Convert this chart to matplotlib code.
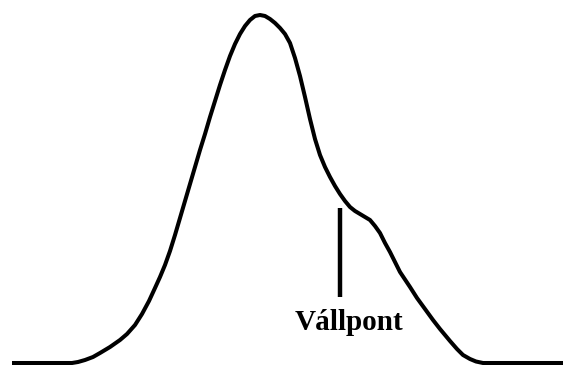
import matplotlib
matplotlib.use("Agg")
import matplotlib.pyplot as plt

# Peak trace with a shoulder on the falling side (time vs. signal height)
time = [12, 72, 78, 85, 93, 100, 110, 120, 127, 135, 142, 149, 155, 160,
        165, 170, 175, 180, 185, 190, 195, 200, 205, 210, 215, 220, 225,
        230, 235, 240, 245, 250, 255, 260, 265, 270, 275, 280, 285, 290,
        295, 300, 305, 310, 315, 320, 325, 330, 335, 340, 345, 350, 355,
        360, 365, 370, 375, 380, 385, 390, 395, 400, 410, 417, 425, 433,
        440, 450, 457, 463, 470, 476, 483, 563]
signal = [0, 0, 1, 3, 6, 10, 16, 23, 29, 38, 49, 62, 75, 86,
          98, 112, 128, 145, 162, 179, 196, 213, 229, 246, 262, 278, 293,
          307, 319, 329, 337, 343, 347, 348, 347, 344, 340, 335, 329, 320,
          305, 287, 266, 244, 224, 208, 196, 186, 177, 169, 162, 156, 152,
          149, 146, 143, 137, 130, 120, 111, 101, 91, 76, 65, 54, 43,
          34, 22, 14, 8, 4, 1.5, 0, 0]

# Shoulder marker
shoulder_time = 339.5
shoulder_range = [66, 155]
shoulder_label = "Vállpont"

fig = plt.figure(figsize=(5.63, 3.65), dpi=100)
ax = fig.add_axes([0, 0, 1, 1])

ax.plot(time, signal, color="black", linewidth=2.9,
        solid_joinstyle="round", solid_capstyle="butt")
ax.plot([shoulder_time, shoulder_time], shoulder_range, color="black",
        linewidth=3.2, solid_capstyle="butt")
ax.text(349, 33, shoulder_label, ha="center", va="baseline",
        fontsize=21, fontweight="bold", family="Liberation Serif")

ax.set_xlim(0, 563)
ax.set_ylim(-2, 363)
ax.axis("off")

fig.savefig("out.png", dpi=100)
